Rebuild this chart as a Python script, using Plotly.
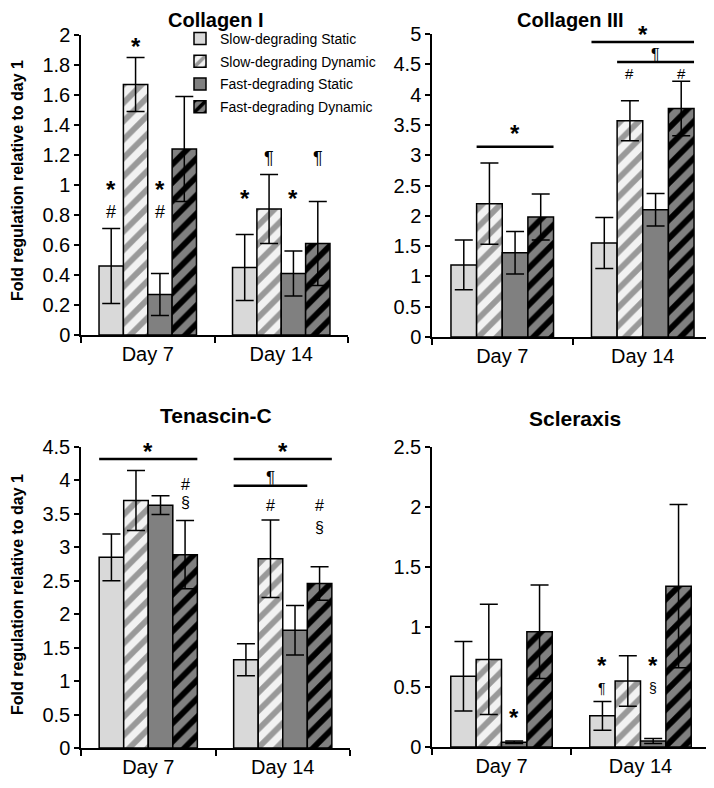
import plotly.graph_objects as go

W, H = 714, 788          # browser window
OFF = 8                  # default page body margin
FW, FH = W - OFF, H - OFF
FONT = "Liberation Sans, Arial, sans-serif"

days = ["Day 7", "Day 14"]
series_names = ["Slow-degrading Static", "Slow-degrading Dynamic",
                "Fast-degrading Static", "Fast-degrading Dynamic"]

panel_titles = ["Collagen I", "Collagen III", "Tenascin-C", "Scleraxis"]

# values[panel][series] = [Day 7, Day 14]
col1_vals = [[0.46, 0.45], [1.67, 0.84], [0.27, 0.41], [1.24, 0.61]]
col1_err = [[0.25, 0.22], [0.18, 0.23], [0.14, 0.15], [0.35, 0.28]]
col3_vals = [[1.19, 1.55], [2.20, 3.57], [1.39, 2.10], [1.98, 3.77]]
col3_err = [[0.41, 0.42], [0.67, 0.33], [0.35, 0.27], [0.38, 0.45]]
ten_vals = [[2.85, 1.32], [3.70, 2.83], [3.63, 1.76], [2.89, 2.46]]
ten_err = [[0.35, 0.24], [0.45, 0.58], [0.14, 0.37], [0.51, 0.25]]
scx_vals = [[0.59, 0.26], [0.73, 0.55], [0.04, 0.05], [0.96, 1.34]]
scx_err = [[0.29, 0.12], [0.46, 0.21], [0.01, 0.02], [0.39, 0.68]]

all_vals = [col1_vals, col3_vals, ten_vals, scx_vals]
all_errs = [col1_err, col3_err, ten_err, scx_err]

y_ranges = [[0, 2], [0, 5], [0, 4.5], [0, 2.5]]
y_dticks = [0.2, 0.5, 0.5, 0.5]

# significance marks: (series, day index, symbol, y)
col1_marks = [(0, 0, "*", 0.97), (0, 0, "#", 0.82), (1, 0, "*", 1.92),
              (2, 0, "*", 0.97), (2, 0, "#", 0.82),
              (0, 1, "*", 0.91), (1, 1, "¶", 1.18), (2, 1, "*", 0.91), (3, 1, "¶", 1.18)]
col3_marks = [(1, 1, "#", 4.35), (3, 1, "#", 4.35)]
ten_marks = [(3, 0, "#", 3.94), (3, 0, "§", 3.67), (1, 1, "#", 3.63),
             (3, 1, "#", 3.63), (3, 1, "§", 3.29)]
scx_marks = [(2, 0, "*", 0.25), (0, 1, "*", 0.68), (0, 1, "¶", 0.49),
             (2, 1, "*", 0.68), (2, 1, "§", 0.49)]
all_marks = [col1_marks, col3_marks, ten_marks, scx_marks]
mark_sizes = [18, 15, 16, 14]

# bracket lines: (day, first series, last series, y, label)
col1_lines = []
col3_lines = [(0, 1, 3, 3.14, "*"), (1, 0, 3, 4.87, "*"), (1, 1, 3, 4.54, "¶")]
ten_lines = [(0, 0, 3, 4.32, "*"), (1, 0, 3, 4.32, "*"), (1, 0, 2, 3.92, "¶")]
scx_lines = []
all_lines = [col1_lines, col3_lines, ten_lines, scx_lines]
line_label_shift = [[], [-2, -8, -3], [-8, -8, -3], []]

# layout in window pixels
px_domains = [((81, 348), (335, 35)), ((432, 713), (337, 34)),
              ((81, 350), (748, 447)), ((432, 710), (747, 447))]
title_pos = [(216, 20), (570, 20), (216, 415), (575, 418)]
title_sizes = [20, 20, 21, 21]

styles = [
    dict(color="#d9d9d9"),
    dict(color="#f2f2f2", pattern=dict(shape="/", bgcolor="#f2f2f2", fgcolor="#999999",
                                        size=13, solidity=0.45)),
    dict(color="#808080"),
    dict(color="#808080", pattern=dict(shape="/", bgcolor="#808080", fgcolor="#000000",
                                        size=13, solidity=0.45)),
]

BARGAP = 0.27


def px_x(x):
    return (x - OFF) / FW


def px_y(y):
    return 1 - (y - OFF) / FH


fig = go.Figure()
layout = dict(template="none", width=FW, height=FH, margin=dict(l=0, r=0, t=0, b=0),
              paper_bgcolor="white", plot_bgcolor="white",
              barmode="group", bargap=BARGAP, bargroupgap=0,
              showlegend=True, font=dict(family=FONT, color="black"))
annotations = []
shapes = []


def bar_left(day, s):
    gw = 1 - BARGAP
    return day - gw / 2 + s * gw / 4


def bar_center(day, s):
    return bar_left(day, s) + (1 - BARGAP) / 8


for p in range(4):
    sfx = "" if p == 0 else str(p + 1)
    xa, ya = "x" + sfx, "y" + sfx
    (x0, x1), (yb, yt) = px_domains[p]
    for s in range(4):
        st = styles[s]
        marker = dict(color=st["color"], line=dict(color="black", width=1.5))
        if "pattern" in st:
            marker["pattern"] = st["pattern"]
        fig.add_trace(go.Bar(
            x=days, y=all_vals[p][s], name=series_names[s],
            marker=marker, xaxis=xa, yaxis=ya,
            showlegend=(p == 0), legendgroup=series_names[s],
            error_y=dict(type="data", array=all_errs[p][s], visible=True,
                         color="black", thickness=1.5, width=9),
        ))
    layout["xaxis" + sfx] = dict(
        domain=[px_x(x0), px_x(x1)], anchor=ya, type="category", range=[-0.5, 1.5],
        automargin=False,
        showline=True, linecolor="black", linewidth=1.5, ticks="outside",
        tickson="boundaries", ticklen=6, tickwidth=1.5, tickcolor="black",
        tickfont=dict(size=20, family=FONT, color="black"), showgrid=False,
        zeroline=False, fixedrange=True)
    layout["yaxis" + sfx] = dict(
        domain=[px_y(yb), px_y(yt)], anchor=xa, range=y_ranges[p],
        automargin=False,
        dtick=y_dticks[p], tick0=0, showline=True, linecolor="black",
        linewidth=1.5, ticks="outside", ticklen=5, tickwidth=1.5,
        tickcolor="black", tickfont=dict(size=20, family=FONT, color="black"),
        showgrid=False, zeroline=False, fixedrange=True)
    tx, ty = title_pos[p]
    annotations.append(dict(text="<b>" + panel_titles[p] + "</b>", x=px_x(tx),
                            y=px_y(ty), xref="paper", yref="paper",
                            showarrow=False,
                            font=dict(size=title_sizes[p], family=FONT, color="black"),
                            xanchor="center", yanchor="middle", borderpad=0))
    for (s, d, sym, yv) in all_marks[p]:
        if sym == "*":
            txt, fs = "<b>*</b>", 24
        else:
            txt, fs = sym, mark_sizes[p]
        annotations.append(dict(text=txt, x=bar_center(d, s), y=yv, xref=xa, yref=ya,
                                showarrow=False, font=dict(size=fs, family=FONT, color="black"),
                                xanchor="center", yanchor="middle", borderpad=0))
    for k, (d, s0, s1, yv, lab) in enumerate(all_lines[p]):
        xl = bar_left(d, s0)
        xr = bar_left(d, s1) + (1 - BARGAP) / 4
        shapes.append(dict(type="line", x0=xl, x1=xr, y0=yv, y1=yv, xref=xa, yref=ya,
                           line=dict(color="black", width=2.5)))
        if lab == "*":
            txt, fs = "<b>*</b>", 24
        else:
            txt, fs = lab, mark_sizes[p] + 1
        annotations.append(dict(text=txt, x=(xl + xr) / 2, y=yv, xref=xa, yref=ya,
                                showarrow=False, font=dict(size=fs, family=FONT, color="black"),
                                xanchor="center", yanchor="bottom",
                                yshift=line_label_shift[p][k]))

for cy in (181, 595):
    annotations.append(dict(text="<b>Fold regulation relative to day 1</b>", x=px_x(17),
                            y=px_y(cy), xref="paper", yref="paper", textangle=-90,
                            showarrow=False, font=dict(size=16, family=FONT, color="black"),
                            xanchor="center", yanchor="middle"))

layout["annotations"] = annotations
layout["shapes"] = shapes
layout["legend"] = dict(x=px_x(180), y=px_y(23), xanchor="left", yanchor="top",
                        bgcolor="rgba(0,0,0,0)", borderwidth=0,
                        font=dict(size=14, family=FONT, color="black"),
                        itemwidth=30, tracegroupgap=1.5, traceorder="grouped")
fig.update_layout(**layout)
fig.write_html("out.html")
